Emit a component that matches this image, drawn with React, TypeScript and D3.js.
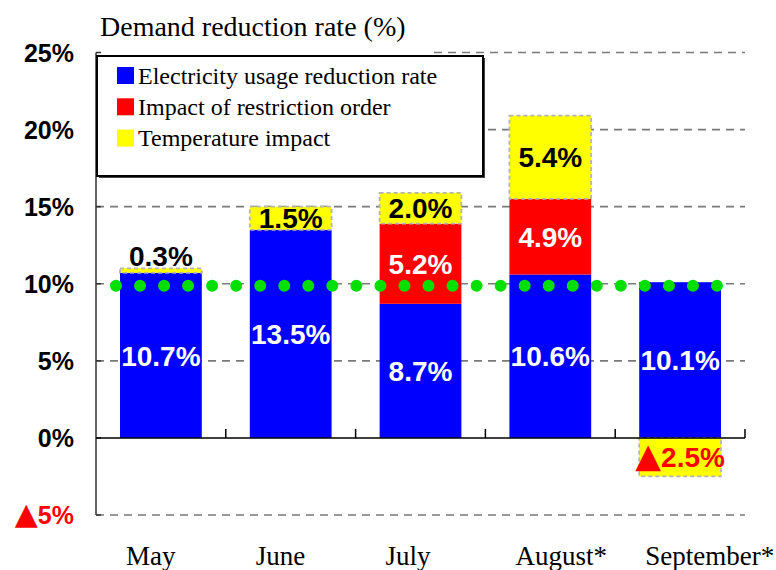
import React from "react";
import * as d3 from "d3";

const months = ["May", "June", "July", "August*", "September*"];
const usageReduction = [10.7, 13.5, 8.7, 10.6, 10.1];
const restrictionImpact = [0, 0, 5.2, 4.9, 0];
const temperatureImpact = [0.3, 1.5, 2.0, 5.4, -2.5];
const yTicks = [-5, 0, 5, 10, 15, 20, 25];
const targetRate = 10;
const seriesNames = ["Electricity usage reduction rate", "Impact of restriction order", "Temperature impact"];
const seriesKeys = ["usage", "restriction", "temperature"];
const seriesColors = ["#0000ff", "#ff0000", "#ffff00"];

const W = 776;
const H = 570;
const serif = "'Liberation Serif', 'Times New Roman', serif";
const sans = "'Liberation Sans', Arial, sans-serif";
const triFont = "'DejaVu Sans', sans-serif";

function Signed({ v, digits, size }: { v: number; digits: number; size: number }) {
  const s = d3.format("." + digits + "f")(Math.abs(v)) + "%";
  if (v < 0) {
    return (
      <>
        <tspan fontFamily={triFont} fontSize={size * 1.2} fontWeight="normal">▲</tspan>
        <tspan fontSize={size}>{s}</tspan>
      </>
    );
  }
  return <>{s}</>;
}

export default function App() {
  const x = d3.scaleBand<string>().domain(months).range([96, 745]).paddingInner(0.37).paddingOuter(0.185);
  const step = x.step();
  const x0 = 96;
  const y = d3.scaleLinear().domain([-5, 25]).range([515, 52.5]);

  const rows = months.map((m, i) => ({
    month: m,
    usage: usageReduction[i],
    restriction: restrictionImpact[i],
    temperature: temperatureImpact[i],
  }));
  const stack = d3.stack<any>().keys(seriesKeys).offset(d3.stackOffsetDiverging);
  const layers = stack(rows);

  const boundaries = d3.range(months.length + 1).map((i) => x0 + i * step);

  return (
    <svg width={W} height={H} style={{ position: "absolute", left: 0, top: 0, background: "#fff" }}>
      {/* title */}
      <text x={100} y={36} fontFamily={serif} fontSize={28} fill="#000">
        Demand reduction rate (%)
      </text>

      {/* gridlines */}
      {yTicks.filter((t) => t !== 0).map((t) => (
        <line
          key={"g" + t}
          x1={t === 25 ? 434 : x0}
          x2={745}
          y1={y(t)}
          y2={y(t)}
          stroke="#7a7a7a"
          strokeWidth={1.6}
          strokeDasharray="8 6"
        />
      ))}

      {/* bars */}
      {layers.map((layer, li) =>
        layer.map((d, i) => {
          const v = (rows[i] as any)[seriesKeys[li]];
          if (!v) return null;
          const top = y(Math.max(d[0], d[1]));
          const bot = y(Math.min(d[0], d[1]));
          return (
            <rect
              key={li + "-" + i}
              x={x(months[i])}
              y={top}
              width={x.bandwidth()}
              height={bot - top}
              fill={seriesColors[li]}
              stroke={li === 2 ? "#b4b4b4" : "none"}
              strokeWidth={li === 2 ? 1.8 : 0}
              strokeDasharray={li === 2 ? "4 3" : undefined}
            />
          );
        })
      )}

      {/* target dotted line */}
      <line
        x1={x0 + 20}
        x2={745 - 25}
        y1={y(targetRate) + 2}
        y2={y(targetRate) + 2}
        stroke="#00e000"
        strokeWidth={12}
        strokeLinecap="round"
        strokeDasharray="0 24.04"
      />

      {/* bar labels */}
      {layers.map((layer, li) =>
        layer.map((d, i) => {
          const v = (rows[i] as any)[seriesKeys[li]];
          if (!v) return null;
          const top = y(Math.max(d[0], d[1]));
          const bot = y(Math.min(d[0], d[1]));
          const cx = (x(months[i]) as number) + x.bandwidth() / 2;
          const small = bot - top < 15;
          const cy = small ? top - 12 : (top + bot) / 2;
          const color = li === 2 ? (v < 0 ? "#ff0000" : "#000") : "#fff";
          return (
            <text
              key={"l" + li + "-" + i}
              x={cx}
              y={cy}
              dy="0.36em"
              textAnchor="middle"
              fontFamily={sans}
              fontWeight="bold"
              fontSize={28}
              fill={color}
            >
              <Signed v={v} digits={1} size={28} />
            </text>
          );
        })
      )}

      {/* axes */}
      <line x1={x0} x2={x0} y1={y(25)} y2={y(-5)} stroke="#333" strokeWidth={1.5} />
      {yTicks.map((t) => (
        <line key={"yt" + t} x1={x0} x2={x0 + 5} y1={y(t)} y2={y(t)} stroke="#333" strokeWidth={1.5} />
      ))}
      <line x1={x0} x2={745} y1={y(0)} y2={y(0)} stroke="#000" strokeWidth={1.5} />
      {boundaries.slice(1).map((bx, i) => (
        <line key={"xt" + i} x1={bx} x2={bx} y1={y(0)} y2={y(0) - 9} stroke="#000" strokeWidth={1.5} />
      ))}

      {/* y tick labels */}
      {yTicks.map((t) => (
        <text
          key={"yl" + t}
          x={74}
          y={y(t)}
          dy="0.36em"
          textAnchor="end"
          fontFamily={sans}
          fontWeight="bold"
          fontSize={25}
          fill={t < 0 ? "#ff0000" : "#000"}
        >
          <Signed v={t} digits={0} size={25} />
        </text>
      ))}

      {/* x labels */}
      {months.map((m, i) => (
        <text key={"xl" + m} x={x0 + i * step + 30} y={565} fontFamily={serif} fontSize={27} fill="#000">
          {m}
        </text>
      ))}

      {/* legend */}
      <rect x={99} y={58} width={386} height={120} fill="#444" />
      <rect x={97} y={56} width={386} height={120} fill="#fff" stroke="#000" strokeWidth={2} />
      {seriesNames.map((n, i) => (
        <g key={"lg" + i}>
          <rect x={117} y={67 + i * 31.3} width={17} height={17} fill={seriesColors[i]} />
          <text x={138} y={83.5 + i * 31.3} fontFamily={serif} fontSize={24} fill="#000">
            {n}
          </text>
        </g>
      ))}
    </svg>
  );
}
